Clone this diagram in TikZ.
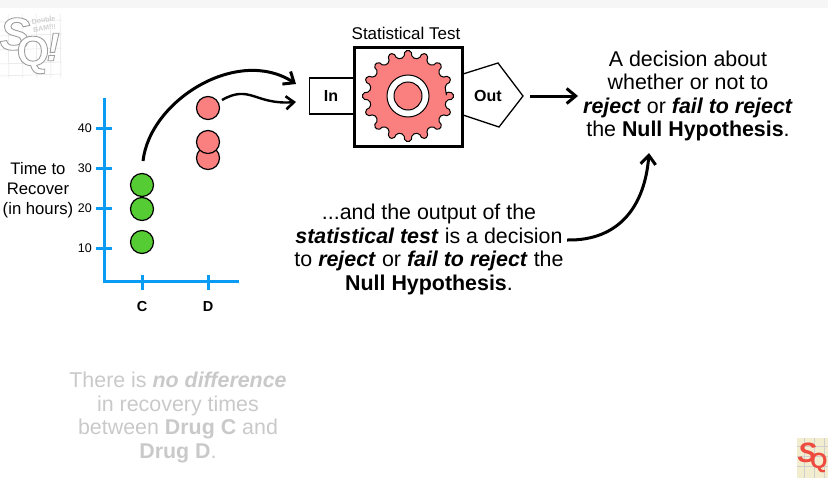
\documentclass[tikz,border=0pt]{standalone}
\usepackage{fontspec}
\setmainfont{Liberation Sans}
\usetikzlibrary{arrows.meta}
\definecolor{axisblue}{HTML}{0A9BF5}
\definecolor{dotgreen}{HTML}{55CC33}
\definecolor{dotred}{HTML}{FA8080}
\definecolor{ghost}{HTML}{C9C9C9}
\definecolor{strip}{HTML}{F6F6F6}
\definecolor{logogray}{HTML}{CFCFCF}
\definecolor{logored}{HTML}{EE4B3E}
\definecolor{logocream}{HTML}{F3EDCF}
\tikzset{
 x=1pt,y=-1pt,
 dotC/.style={circle,draw=black,line width=1.2pt,fill=dotgreen,minimum size=23pt,inner sep=0pt},
 dotD/.style={circle,draw=black,line width=1.2pt,fill=dotred,minimum size=23pt,inner sep=0pt},
 axisline/.style={axisblue,line width=3pt},
 ticklab/.style={font=\fontsize{12.5}{14}\selectfont,inner sep=0pt},
 catlab/.style={font=\fontsize{14.5}{16}\bfseries\selectfont,inner sep=0pt},
 para/.style={align=center,inner sep=0pt,font=\fontsize{21.4}{23.4}\selectfont},
 axistitle/.style={align=center,inner sep=0pt,font=\fontsize{16.7}{20}\selectfont},
 boxlab/.style={inner sep=0pt,font=\fontsize{16}{18}\bfseries\selectfont},
 flow/.style={line width=3pt,-{Straight Barb[length=9pt,width=15pt,line width=3pt]}},
 thinflow/.style={line width=2.4pt,-{Straight Barb[length=8pt,width=13pt,line width=2.6pt]}},
}
\newcommand{\bi}[1]{\textbf{\textit{#1}}}
\newcommand{\outl}[2]{\special{pdf:code 2 Tr #1 w 0.62 G}#2\special{pdf:code 0 Tr 0 G}}
\begin{document}
\begin{tikzpicture}
\useasboundingbox (0,0) rectangle (828,490);
\fill[strip] (0,0) rectangle (828,8);
% logo top-left
\foreach \yy in {22,36,50,64,76} \draw[logogray!60,line width=.5pt] (0,\yy) -- (62,\yy-2);
\foreach \xx in {8,22,36,50,60} \draw[logogray!60,line width=.5pt] (\xx,14) -- (\xx+1,78);
\node[inner sep=0pt,text=white,font=\fontsize{46}{46}\bfseries\itshape\selectfont] (logoS) at (15,34) {\outl{0.9}{S}};
\node[inner sep=0pt,text=white,font=\fontsize{42}{42}\bfseries\selectfont] (logoQ) at (33,55) {\outl{0.9}{Q}};
\node[inner sep=0pt,text=white,font=\fontsize{40}{40}\bfseries\itshape\selectfont] (logoEx) at (53,47) {\outl{0.9}{!}};
\node[inner sep=0pt,text=logogray,rotate=8,align=center,font=\fontsize{7}{8}\bfseries\selectfont] (logoBam) at (44,24) {Double\\BAM!!!};
% logo bottom-right
\fill[logocream] (797,438) rectangle (828,478);
\foreach \yy in {446,456,466} \draw[logogray,line width=.4pt] (797,\yy) -- (828,\yy);
\foreach \xx in {804,814,824} \draw[logogray,line width=.4pt] (\xx,438) -- (\xx,478);
\node[inner sep=0pt,text=logored,font=\fontsize{28}{28}\bfseries\itshape\selectfont] (logoS2) at (807,453) {S};
\node[inner sep=0pt,text=logored,font=\fontsize{22}{22}\bfseries\selectfont] (logoQ2) at (819,463) {Q};
% axes
\draw[axisline] (104,98) -- (104,281) -- (239,281);
\foreach \yy/\lab in {128/40,168/30,208/20,248/10}{
 \draw[axisline] (96,\yy) -- (112,\yy);
 \node[ticklab,anchor=east] (t\lab) at (92,\yy) {\lab};
}
\draw[axisline] (142,275) -- (142,290);
\draw[axisline] (208,275) -- (208,290);
\node[catlab] (labC) at (142,307) {C};
\node[catlab] (labD) at (208,307) {D};
\node[axistitle] (ytitle) at (38,190.5) {Time to\\Recover\\(in hours)};
% dots
\node[dotC] (c1) at (142,185) {};
\node[dotC] (c2) at (142,209) {};
\node[dotC] (c3) at (142,242) {};
\node[dotD] (d1) at (208,158) {};
\node[dotD] (d2) at (208,142) {};
\node[dotD] (d3) at (208,108) {};
% statistical test
\node[inner sep=0pt,font=\fontsize{17}{19}\selectfont] (sttitle) at (406,33) {Statistical Test};
\node[draw=black,line width=1.3pt,minimum width=46pt,minimum height=36pt,inner sep=0pt,anchor=west,fill=white] (in) at (309,96) {};
\node[boxlab] (inlab) at (331,96) {In};
\draw[line width=1.3pt,fill=white] (463,74) -- (498,63) -- (523,96) -- (499,127) -- (463,115) -- cycle;
\node[boxlab] (outlab) at (488,96) {Out};
\node[draw=black,line width=3pt,fill=white,minimum width=108pt,minimum height=99pt,inner sep=0pt] (box) at (408.5,97) {};
% gear
\coordinate (gc) at (408,96);
\fill[dotred,draw=black,line width=1pt,line join=round,rounded corners=2pt]
 (446.5,96)
 \foreach \i in {0,...,15}{
  -- ({408+38.5*cos(\i*22.5-6)},{96+38.5*sin(\i*22.5-6)})
  -- ({408+45.5*cos(\i*22.5-4)},{96+45.5*sin(\i*22.5-4)})
  -- ({408+45.5*cos(\i*22.5+4)},{96+45.5*sin(\i*22.5+4)})
  -- ({408+38.5*cos(\i*22.5+6)},{96+38.5*sin(\i*22.5+6)})
 } -- cycle;
\draw[black,fill=white,line width=1pt] (gc) circle (21pt);
\draw[black,fill=dotred,line width=1pt] (gc) circle (14pt);
% connectors
\coordinate (a1s) at (143,161);
\coordinate (a1e) at (296,84);
\coordinate (a2s) at (222,100);
\coordinate (a2e) at (296,102);
\draw[flow] (a1s) .. controls (150,100) and (238,46) .. (a1e);
\draw[thinflow] (a2s) .. controls (250,84) and (255,105) .. (a2e);
\coordinate (a3s) at (530,96);
\coordinate (a3e) at (578,96);
\draw[flow] (a3s) -- (a3e);
% right paragraph
\node[para] (decision) at (688,96) {A decision about\\whether or not to\\\bi{reject} or \bi{fail to reject}\\the \textbf{Null Hypothesis}.};
\node[para] (output) at (429,249.5) {...and the output of the\\\bi{statistical test} is a decision\\to \bi{reject} or \bi{fail to reject} the\\\textbf{Null Hypothesis}.};
\coordinate (a4s) at (567,240);
\coordinate (a4e) at (649,153);
\draw[flow] (a4s) .. controls (620,241) and (645,205) .. (a4e);
% ghost paragraph
\node[para,text=ghost] (nulltext) at (178,417.5) {There is \bi{no difference}\\in recovery times\\between \textbf{Drug C} and\\\textbf{Drug D}.};
\end{tikzpicture}
\end{document}
